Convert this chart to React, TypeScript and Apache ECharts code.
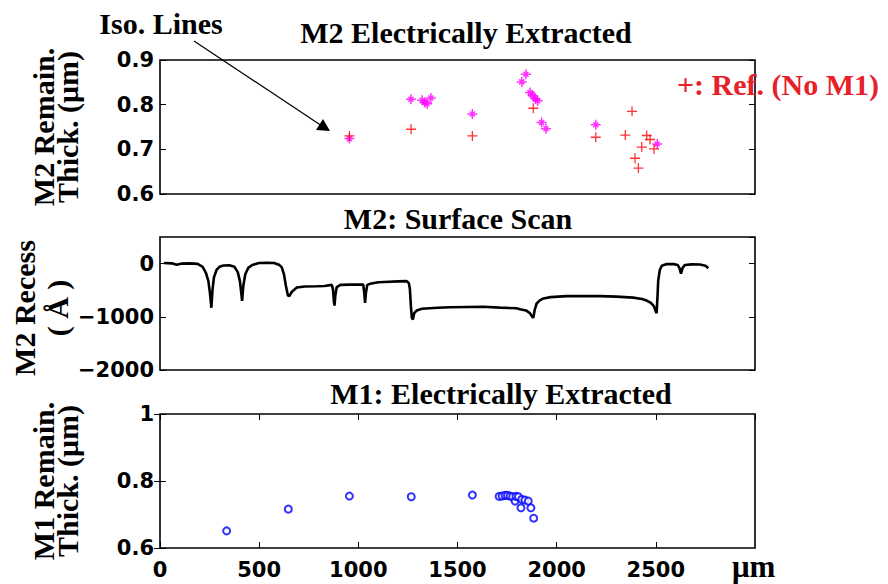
import React, { useEffect, useRef } from "react";
import * as echarts from "echarts";

// ---- Data ----
// M2 electrically extracted remaining thickness (µm) – asterisks (iso lines)
const m2IsoX = [955, 1265, 1322, 1335, 1347, 1366, 1575, 1824, 1845, 1866, 1880, 1893, 1904, 1924, 1946, 2197, 2507];
const m2IsoY = [0.724, 0.812, 0.81, 0.805, 0.802, 0.815, 0.779, 0.851, 0.868, 0.827, 0.82, 0.813, 0.809, 0.76, 0.746, 0.755, 0.712];
// Reference (No M1) – plus markers
const refX = [955, 1266, 1575, 1882, 2197, 2346, 2380, 2395, 2412, 2429, 2454, 2471, 2491];
const refY = [0.73, 0.745, 0.73, 0.792, 0.727, 0.732, 0.785, 0.68, 0.658, 0.705, 0.731, 0.722, 0.701];
// M2 surface scan recess (Å)
const scanX = [20, 60, 84, 110, 150, 190, 215, 232, 244, 252, 259, 265, 272, 285, 300, 320, 350, 375, 392, 403, 410, 414, 420, 430, 445, 465, 500, 540, 575, 600, 614, 625, 635, 645, 652, 665, 690, 730, 790, 830, 866, 872, 877, 880, 884, 891, 910, 960, 1000, 1025, 1030, 1034, 1038, 1045, 1060, 1100, 1130, 1200, 1244, 1255, 1260, 1265, 1270, 1275, 1282, 1295, 1320, 1400, 1462, 1550, 1630, 1714, 1798, 1815, 1845, 1865, 1875, 1882, 1890, 1899, 1915, 1933, 1970, 2050, 2150, 2218, 2300, 2386, 2430, 2454, 2475, 2490, 2500, 2504, 2508, 2512, 2520, 2530, 2555, 2590, 2610, 2620, 2627, 2635, 2647, 2680, 2722, 2750, 2765];
const scanY = [10, 5, -20, 0, 5, -5, -60, -180, -330, -560, -830, -480, -260, -120, -60, -35, -30, -60, -160, -330, -560, -700, -420, -200, -80, -25, 10, 15, 10, -20, -70, -200, -420, -600, -610, -530, -450, -430, -425, -420, -400, -480, -720, -790, -600, -440, -400, -395, -392, -395, -560, -740, -560, -400, -380, -350, -345, -335, -330, -370, -480, -800, -1020, -1050, -930, -880, -850, -830, -820, -815, -810, -827, -840, -857, -880, -930, -990, -1020, -860, -750, -690, -655, -630, -612, -610, -612, -620, -640, -665, -695, -740, -800, -900, -930, -650, -320, -120, -40, -8, -10, -25, -90, -190, -80, -25, -15, -18, -40, -85];
// M1 electrically extracted remaining thickness (µm)
const m1X = [336, 647, 955, 1267, 1575, 1710, 1725, 1740, 1752, 1765, 1778, 1790, 1795, 1807, 1820, 1824, 1840, 1857, 1870, 1884];
const m1Y = [0.651, 0.716, 0.755, 0.753, 0.758, 0.754, 0.755, 0.757, 0.757, 0.755, 0.753, 0.74, 0.754, 0.753, 0.72, 0.745, 0.743, 0.74, 0.72, 0.689];

const xTicks = { min: 0, max: 3000, interval: 500 };
const m2Ticks = { min: 0.6, max: 0.9, interval: 0.1 };
const scanTicks = { min: -2000, max: 500, interval: 1000 };
const m1Ticks = { min: 0.6, max: 1, interval: 0.2 };

const ASTERISK =
  "path://M0 8.5L20 8.5L20 11.5L0 11.5Z M8.5 0L11.5 0L11.5 20L8.5 20Z M6.06 3.94L16.06 13.94L13.94 16.06L3.94 6.06Z M13.94 3.94L16.06 6.06L6.06 16.06L3.94 13.94Z";
const PLUS = "path://M0 8.7L20 8.7L20 11.3L0 11.3Z M8.7 0L11.3 0L11.3 20L8.7 20Z";

const zip = (a: number[], b: number[]) => a.map((v, i) => [v, b[i]]);

const SERIF = "Liberation Serif";
const SANS = "DejaVu Sans";

const tickLabel = {
  color: "#000",
  fontFamily: SANS,
  fontWeight: "bold",
  fontSize: 21,
};

function yAxisPair(
  gridIndex: number,
  t: { min: number; max: number; interval: number },
  fmt: (v: number) => string,
  showMax = true
) {
  const common = {
    gridIndex,
    type: "value",
    min: t.min,
    max: t.max,
    interval: t.interval,
    axisLine: { show: false },
    splitLine: { show: false },
    axisTick: { show: true, inside: true, length: 6, lineStyle: { color: "#000", width: 1 } },
  };
  return [
    { ...common, position: "left", axisLabel: { ...tickLabel, margin: 6, formatter: fmt, showMaxLabel: showMax } },
    { ...common, position: "right", axisLabel: { show: false } },
  ];
}

function titleText(text: string, x: number, y: number, extra: any = {}) {
  return {
    type: "text",
    x,
    y,
    style: {
      text,
      fill: "#000",
      fontFamily: SERIF,
      fontWeight: "bold",
      fontSize: 30,
      align: "center",
      verticalAlign: "middle",
      textAlign: "center",
      textVerticalAlign: "middle",
      ...extra,
    },
  };
}

function rotLabel(text: string, x: number, y: number, lineHeight: number) {
  return {
    type: "text",
    x,
    y,
    rotation: Math.PI / 2,
    style: {
      text,
      fill: "#000",
      fontFamily: SERIF,
      fontWeight: "bold",
      fontSize: 30,
      lineHeight,
      align: "center",
      verticalAlign: "middle",
      textAlign: "center",
      textVerticalAlign: "middle",
    },
  };
}

export default function App() {
  const ref = useRef<HTMLDivElement>(null);
  useEffect(() => {
    if (!ref.current) return;
    const chart = echarts.init(ref.current, undefined, { renderer: "svg" });
    const gridBox = { show: true, borderColor: "#000", borderWidth: 1.6, backgroundColor: "transparent" };
    const hiddenX = (gridIndex: number) => ({
      gridIndex,
      type: "value",
      min: xTicks.min,
      max: xTicks.max,
      interval: xTicks.interval,
      show: false,
    });
    const bottomXCommon = {
      gridIndex: 2,
      type: "value",
      min: xTicks.min,
      max: xTicks.max,
      interval: xTicks.interval,
      axisLine: { show: false },
      splitLine: { show: false },
      axisTick: { show: true, inside: true, length: 6, lineStyle: { color: "#000", width: 1 } },
    };
    const option: any = {
      animation: false,
      grid: [
        { left: 160, top: 60, width: 595, height: 134, ...gridBox },
        { left: 160, top: 237, width: 595, height: 133, ...gridBox },
        { left: 160, top: 414, width: 595, height: 134, ...gridBox },
      ],
      xAxis: [
        hiddenX(0),
        hiddenX(1),
        {
          ...bottomXCommon,
          position: "bottom",
          axisLabel: {
            ...tickLabel,
            margin: 11,
            showMaxLabel: false,
            formatter: (v: number) => String(Math.round(v)),
          },
        },
        { ...bottomXCommon, position: "top", axisLabel: { show: false } },
      ],
      yAxis: [
        ...yAxisPair(0, m2Ticks, (v: number) => v.toFixed(1)),
        ...yAxisPair(1, scanTicks, (v: number) => String(Math.round(v)).replace("-", "\u2212"), false),
        ...yAxisPair(2, m1Ticks, (v: number) => (Math.abs(v - 1) < 1e-9 ? "1" : v.toFixed(1))),
      ],
      series: [
        {
          type: "scatter",
          xAxisIndex: 0,
          yAxisIndex: 0,
          symbol: ASTERISK,
          symbolSize: 10,
          itemStyle: { color: "#ff00ff" },
          data: zip(m2IsoX, m2IsoY),
        },
        {
          type: "scatter",
          xAxisIndex: 0,
          yAxisIndex: 0,
          symbol: PLUS,
          symbolSize: 10,
          itemStyle: { color: "#ff0000" },
          data: zip(refX, refY),
        },
        {
          type: "line",
          xAxisIndex: 1,
          yAxisIndex: 2,
          showSymbol: false,
          lineStyle: { color: "#000", width: 2.6 },
          data: zip(scanX, scanY),
        },
        {
          type: "scatter",
          xAxisIndex: 2,
          yAxisIndex: 4,
          symbol: "emptyCircle",
          symbolSize: 7,
          itemStyle: { color: "#0000ff", borderColor: "#0000ff", borderWidth: 2 },
          data: zip(m1X, m1Y),
        },
      ],
      graphic: [
        titleText("M2 Electrically Extracted", 466, 32),
        titleText("M2: Surface Scan", 458, 218),
        titleText("M1: Electrically Extracted", 501, 393),
        titleText("Iso. Lines", 161, 23),
        titleText("+: Ref. (No M1)", 677, 84, {
          fill: "#e8202a",
          align: "left",
          textAlign: "left",
        }),
        titleText("\u03bcm", 732, 566, { align: "left", textAlign: "left", fontSize: 31 }),
        rotLabel("M2 Remain.\nThick. (\u03bcm)", 55, 127, 24),
        rotLabel("M2 Recess\n( \u00c5 )", 41, 308, 33),
        rotLabel("M1 Remain.\nThick. (\u03bcm)", 55, 481, 24),
        {
          type: "line",
          shape: { x1: 194, y1: 41, x2: 322, y2: 126 },
          style: { stroke: "#000", lineWidth: 1.2 },
        },
        {
          type: "polygon",
          shape: { points: [[330, 131], [316, 130], [323, 119]] },
          style: { fill: "#000" },
        },
      ],
    };
    chart.setOption(option);
    return () => chart.dispose();
  }, []);
  return (
    <div
      ref={ref}
      style={{ position: "fixed", left: 0, top: 0, width: 888, height: 584, background: "#fff" }}
    />
  );
}
